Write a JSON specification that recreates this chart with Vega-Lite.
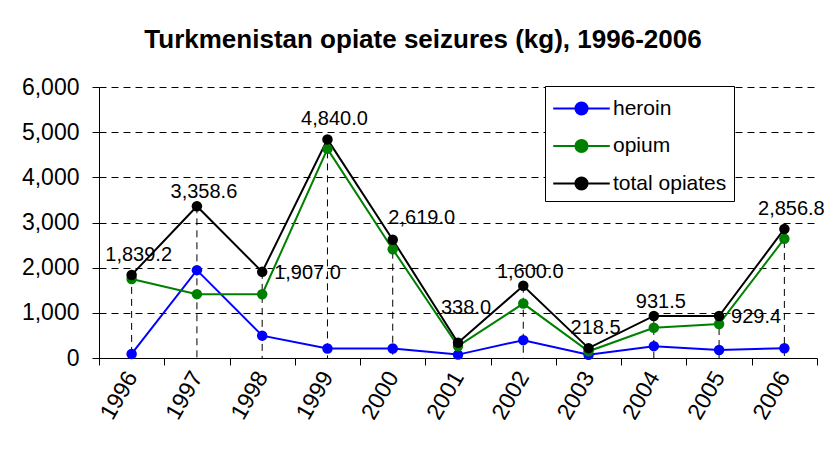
{
  "$schema": "https://vega.github.io/schema/vega-lite/v6.json",
  "width": 718,
  "height": 271,
  "autosize": {"type": "none"},
  "padding": {"left": 99, "top": 87, "right": 14, "bottom": 94},
  "background": "white",
  "title": {
    "text": "Turkmenistan opiate seizures (kg), 1996-2006",
    "font": "Liberation Sans",
    "fontSize": 26,
    "fontWeight": "bold",
    "color": "black",
    "anchor": "middle",
    "dx": -35,
    "offset": 23
  },
  "data": {
    "values": [
      {"year": "1996", "series": "heroin", "value": 90},
      {"year": "1997", "series": "heroin", "value": 1945},
      {"year": "1998", "series": "heroin", "value": 495},
      {"year": "1999", "series": "heroin", "value": 210},
      {"year": "2000", "series": "heroin", "value": 210},
      {"year": "2001", "series": "heroin", "value": 75},
      {"year": "2002", "series": "heroin", "value": 395},
      {"year": "2003", "series": "heroin", "value": 70},
      {"year": "2004", "series": "heroin", "value": 262},
      {"year": "2005", "series": "heroin", "value": 178},
      {"year": "2006", "series": "heroin", "value": 215},
      {"year": "1996", "series": "opium", "value": 1749.2},
      {"year": "1997", "series": "opium", "value": 1413.6},
      {"year": "1998", "series": "opium", "value": 1412},
      {"year": "1999", "series": "opium", "value": 4630},
      {"year": "2000", "series": "opium", "value": 2409},
      {"year": "2001", "series": "opium", "value": 263},
      {"year": "2002", "series": "opium", "value": 1205},
      {"year": "2003", "series": "opium", "value": 148.5},
      {"year": "2004", "series": "opium", "value": 669.5},
      {"year": "2005", "series": "opium", "value": 751.4},
      {"year": "2006", "series": "opium", "value": 2641.8},
      {"year": "1996", "series": "total opiates", "value": 1839.2},
      {"year": "1997", "series": "total opiates", "value": 3358.6},
      {"year": "1998", "series": "total opiates", "value": 1907.0},
      {"year": "1999", "series": "total opiates", "value": 4840.0},
      {"year": "2000", "series": "total opiates", "value": 2619.0},
      {"year": "2001", "series": "total opiates", "value": 338.0},
      {"year": "2002", "series": "total opiates", "value": 1600.0},
      {"year": "2003", "series": "total opiates", "value": 218.5},
      {"year": "2004", "series": "total opiates", "value": 931.5},
      {"year": "2005", "series": "total opiates", "value": 929.4},
      {"year": "2006", "series": "total opiates", "value": 2856.8}
    ]
  },
  "encoding": {
    "x": {
      "field": "year",
      "type": "ordinal",
      "bandPosition": 0.5,
      "scale": {"type": "band", "paddingInner": 0, "paddingOuter": 0},
      "axis": {
        "title": null,
        "tickBand": "extent",
        "labelAngle": -60,
        "labelFont": "Liberation Sans",
        "labelFontSize": 23,
        "labelColor": "black",
        "labelPadding": 8,
        "tickSize": 7,
        "tickColor": "black",
        "domainColor": "black",
        "grid": false
      }
    },
    "y": {
      "field": "value",
      "type": "quantitative",
      "scale": {"domain": [0, 6000], "nice": false},
      "axis": {
        "title": null,
        "values": [0, 1000, 2000, 3000, 4000, 5000, 6000],
        "format": ",.0f",
        "labelFont": "Liberation Sans",
        "labelFontSize": 23,
        "labelColor": "black",
        "labelPadding": 13,
        "tickSize": 7,
        "tickColor": "black",
        "domainColor": "black",
        "grid": true,
        "gridColor": "black",
        "gridDash": [7, 5],
        "gridWidth": 1
      }
    }
  },
  "layer": [
    {
      "transform": [{"filter": "datum.series === 'total opiates'"}],
      "mark": {"type": "rule", "color": "black", "strokeDash": [7, 5], "strokeWidth": 1},
      "encoding": {"y2": {"datum": 0}}
    },
    {
      "mark": {"type": "line", "strokeWidth": 2},
      "encoding": {
        "color": {
          "field": "series",
          "type": "nominal",
          "scale": {"domain": ["heroin", "opium", "total opiates"], "range": ["#0000ff", "#008000", "#000000"]},
          "legend": {
            "title": null,
            "orient": "none",
            "legendX": 446,
            "legendY": -1,
            "symbolType": "M-2,0H2M-0.43,0A0.43,0.43 0 1,0 0.43,0A0.43,0.43 0 1,0 -0.43,0",
            "symbolSize": 800,
            "symbolStrokeWidth": 2,
            "symbolOffset": 14,
            "labelOffset": 16,
            "labelFont": "Liberation Sans",
            "labelFontSize": 21,
            "labelColor": "black",
            "rowPadding": 11.5,
            "padding": 7,
            "strokeColor": "black",
            "fillColor": "white",
            "encode": {
              "symbols": {
                "update": {
                  "fill": {"signal": "scale('color', datum.value)"},
                  "stroke": {"signal": "scale('color', datum.value)"},
                  "opacity": {"value": 1}
                }
              }
            }
          }
        }
      }
    },
    {
      "mark": {"type": "point", "filled": true, "size": 110, "opacity": 1},
      "encoding": {
        "color": {"field": "series", "type": "nominal", "legend": null}
      }
    },
    {
      "transform": [{"filter": "datum.series === 'total opiates' && indexof(['1997','2002','2004'], datum.year) >= 0"}],
      "mark": {"type": "text", "font": "Liberation Sans", "fontSize": 20, "color": "black", "baseline": "middle", "dx": 7, "dy": -14},
      "encoding": {"text": {"field": "value", "type": "quantitative", "format": ",.1f"}}
    },
    {
      "transform": [{"filter": "datum.series === 'total opiates' && indexof(['1996','1999','2003','2006'], datum.year) >= 0"}],
      "mark": {"type": "text", "font": "Liberation Sans", "fontSize": 20, "color": "black", "baseline": "middle", "dx": 7, "dy": -20},
      "encoding": {"text": {"field": "value", "type": "quantitative", "format": ",.1f"}}
    },
    {
      "transform": [{"filter": "datum.series === 'total opiates' && datum.year === '2000'"}],
      "mark": {"type": "text", "font": "Liberation Sans", "fontSize": 20, "color": "black", "baseline": "middle", "dx": 29, "dy": -22},
      "encoding": {"text": {"field": "value", "type": "quantitative", "format": ",.1f"}}
    },
    {
      "transform": [{"filter": "datum.series === 'total opiates' && datum.year === '2001'"}],
      "mark": {"type": "text", "font": "Liberation Sans", "fontSize": 20, "color": "black", "baseline": "middle", "dx": 8, "dy": -35},
      "encoding": {"text": {"field": "value", "type": "quantitative", "format": ",.1f"}}
    },
    {
      "transform": [{"filter": "datum.series === 'total opiates' && indexof(['1998','2005'], datum.year) >= 0"}],
      "mark": {"type": "text", "font": "Liberation Sans", "fontSize": 20, "color": "black", "baseline": "middle", "align": "left", "dx": 12, "dy": 1},
      "encoding": {"text": {"field": "value", "type": "quantitative", "format": ",.1f"}}
    }
  ],
  "config": {"view": {"stroke": null}}
}
